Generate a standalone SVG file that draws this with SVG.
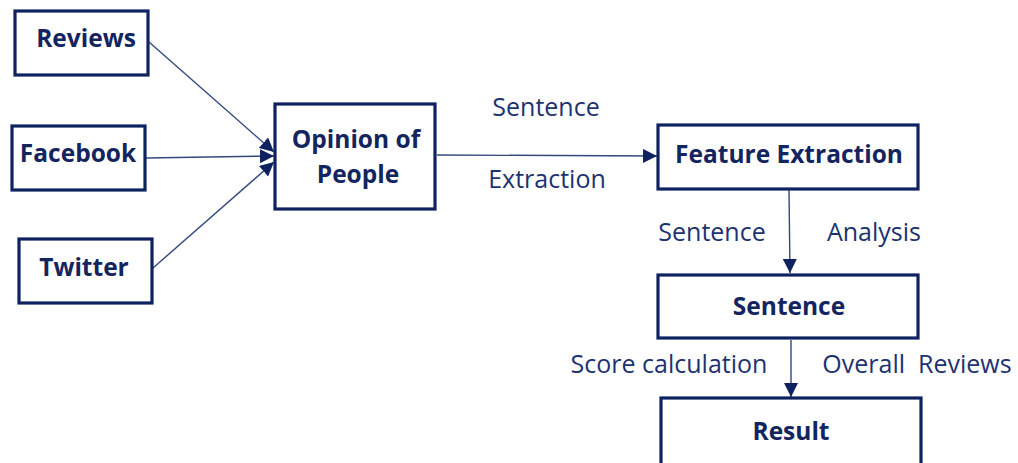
<svg xmlns="http://www.w3.org/2000/svg" width="1018" height="463" viewBox="0 0 1018 463">
<style>
.box{fill:#fff;stroke:#0e2260;stroke-width:3.2}
.t{font-family:"Open Sans","Liberation Sans",sans-serif;font-weight:bold;font-size:24.5px;fill:#13245e;text-anchor:middle}
.l{font-family:"Open Sans","Liberation Sans",sans-serif;font-size:25px;fill:#1d3270;text-anchor:middle}
.c{stroke:#34487e;stroke-width:1.4;fill:none;marker-end:url(#ah)}
</style>
<defs>
<marker id="ah" viewBox="0 0 10 10" refX="10" refY="5" markerWidth="14" markerHeight="14" markerUnits="userSpaceOnUse" orient="auto">
<path d="M0,0 L10,5 L0,10 z" fill="#0e2260"/>
</marker>
</defs>
<rect width="1018" height="463" fill="#fff"/>
<g id="connectors">
<line class="c" x1="149" y1="42" x2="274" y2="152"/>
<line class="c" x1="146" y1="158" x2="274" y2="156"/>
<line class="c" x1="153" y1="268" x2="274" y2="162"/>
<line class="c" x1="437" y1="155" x2="657" y2="156"/>
<line class="c" x1="789" y1="190" x2="790" y2="273"/>
<line class="c" x1="791" y1="340" x2="791" y2="397"/>
<text class="l" x="546" y="116">Sentence</text>
<text class="l" x="547" y="188">Extraction</text>
<text class="l" x="712" y="241">Sentence</text>
<text class="l" x="874" y="241">Analysis</text>
<text class="l" x="669" y="373">Score calculation</text>
<text class="l" x="917" y="373" xml:space="preserve">Overall  Reviews</text>
</g>
<g id="reviews"><rect class="box" x="15" y="11" width="133" height="64"/><text class="t" x="86" y="47">Reviews</text></g>
<g id="facebook"><rect class="box" x="12" y="126" width="133" height="64"/><text class="t" x="78" y="162">Facebook</text></g>
<g id="twitter"><rect class="box" x="19" y="239" width="133" height="64"/><text class="t" x="84" y="276">Twitter</text></g>
<g id="opinion"><rect class="box" x="275" y="104" width="160" height="105"/><text class="t" x="356" y="148">Opinion of</text><text class="t" x="358" y="183">People</text></g>
<g id="feature"><rect class="box" x="658" y="125" width="260" height="64"/><text class="t" x="789" y="163">Feature Extraction</text></g>
<g id="sentence"><rect class="box" x="658" y="275" width="260" height="63"/><text class="t" x="789" y="315">Sentence</text></g>
<g id="result"><rect class="box" x="661" y="398" width="260" height="70"/><text class="t" x="791" y="440">Result</text></g>
</svg>
